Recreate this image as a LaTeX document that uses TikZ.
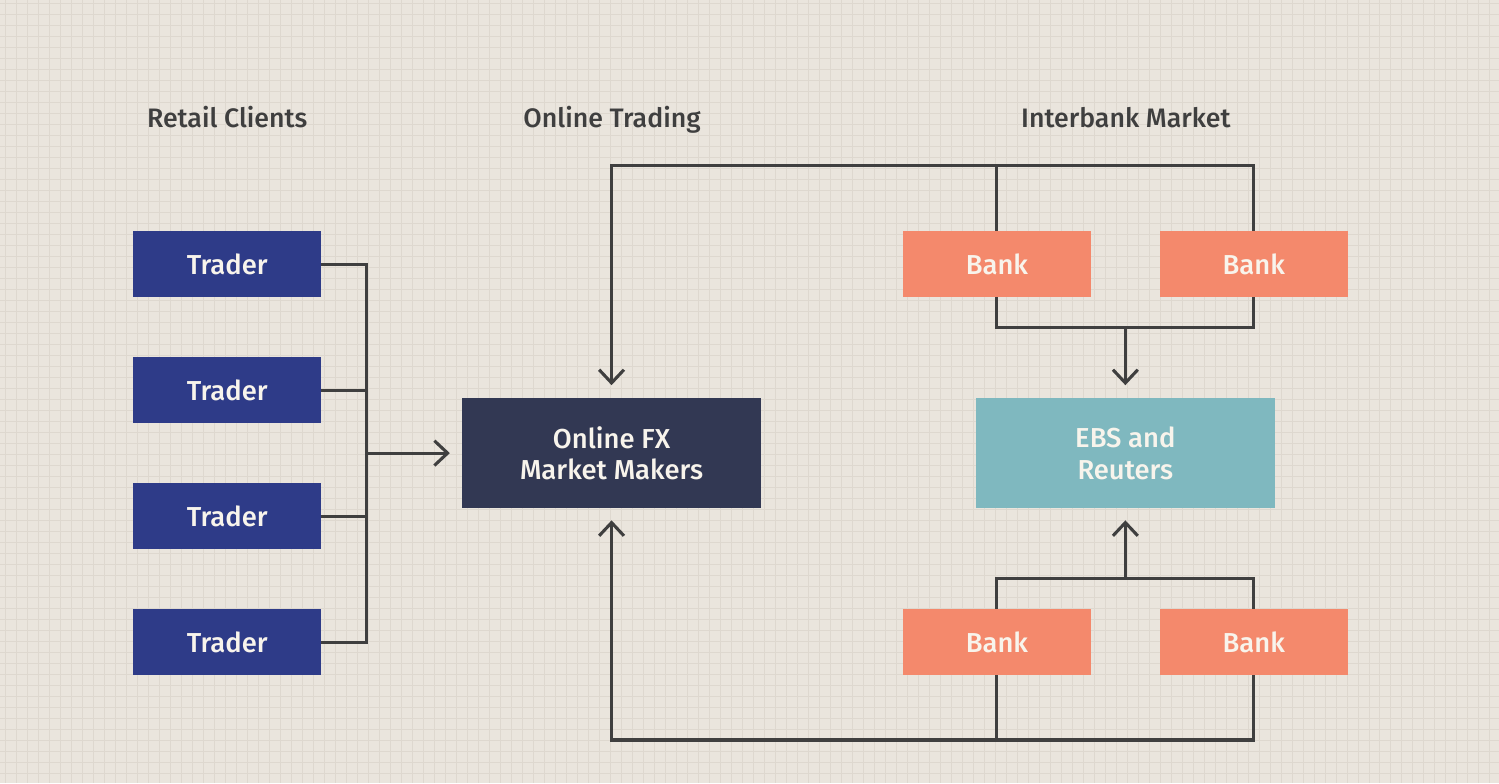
\documentclass[tikz,border=0pt]{standalone}
\usepackage{fontspec}
\setmainfont{Fira Sans}[UprightFont={* Medium}]
\usetikzlibrary{arrows.meta,positioning,calc}
\definecolor{bgcol}{HTML}{EAE5DD}
\definecolor{gridcol}{HTML}{DED8CF}
\definecolor{linecol}{HTML}{3F3F3F}
\definecolor{tradercol}{HTML}{2E3B88}
\definecolor{fxcol}{HTML}{323853}
\definecolor{bankcol}{HTML}{F4896C}
\definecolor{ebscol}{HTML}{7FB8BF}
\definecolor{boxtext}{HTML}{F8F4EC}
\tikzset{
  box/.style={inner sep=0pt,align=center,text=boxtext,font=\fontsize{19.5}{22.5}\selectfont},
  trader/.style={box,fill=tradercol,minimum width=4.7cm,minimum height=1.65cm},
  bank/.style={box,fill=bankcol,minimum width=4.7cm,minimum height=1.65cm},
  hub/.style={box,minimum width=7.475cm,minimum height=2.75cm},
  title/.style={text=linecol,anchor=base,font=\fontsize{19}{22}\selectfont},
  link/.style={draw=linecol,line width=2.2pt},
  arr/.style={link,-{Straight Barb[length=0.33cm,width=0.62cm,line width=2.2pt]}},
}

\begin{document}
\begin{tikzpicture}[x=0.025cm,y=-0.025cm]
	\fill[bgcol] (0,0) rectangle (1499,783);
	\foreach \gx in {5,16,...,1499} \draw[gridcol,line width=0.4pt] (\gx,0)--(\gx,783);
	\foreach \gy in {3,14,...,783} \draw[gridcol,line width=0.4pt] (0,\gy)--(1499,\gy);
	\useasboundingbox (0,0) rectangle (1499,783);
	% column titles
	\node[title] (ttl1) at (227,127) {Retail Clients};
	\node[title] (ttl2) at (612,127) {Online Trading};
	\node[title] (ttl3) at (1126,127) {Interbank Market};
	% traders
	\node[trader] (t1) at (227,264) {Trader};
	\node[trader] (t2) at (227,390) {Trader};
	\node[trader] (t3) at (227,516) {Trader};
	\node[trader] (t4) at (227,642) {Trader};
	% market makers and interbank
	\node[hub,fill=fxcol] (fx) at (611.5,453) {Online FX\\Market Makers};
	\node[hub,fill=ebscol] (ebs) at (1125.5,453) {EBS and\\Reuters};
	\node[bank] (b1) at (997,264) {Bank};
	\node[bank] (b2) at (1254,264) {Bank};
	\node[bank] (b3) at (997,642) {Bank};
	\node[bank] (b4) at (1254,642) {Bank};
	% junctions
	\coordinate (jl) at (366,453);
	\coordinate (topline) at (611.5,165);
	\coordinate (upmid) at (1125.5,327);
	\coordinate (lowmid) at (1125.5,578);
	\coordinate (botline) at (611.5,740);
	% traders to market makers
	\draw[link] (t1.east) -| (jl);
	\draw[link] (t4.east) -| (jl);
	\draw[link] (t2.east) -- (t2.east -| jl);
	\draw[link] (t3.east) -- (t3.east -| jl);
	\draw[arr,shorten >=8.5pt] (jl) -- (fx.west);
	% banks to EBS
	\draw[link] (b1.south) |- (upmid) -| (b2.south);
	\draw[arr,shorten >=9pt] (upmid) -- (ebs.north);
	\draw[link] (b3.north) |- (lowmid) -| (b4.north);
	\draw[arr,shorten >=8.5pt] (lowmid) -- (ebs.south);
	% banks to market makers
	\draw[link] (b1.north) -- (b1.north |- topline);
	\draw[arr,shorten >=9pt] (b2.north) |- (topline) -- (fx.north);
	\draw[link] (b3.south) -- (b3.south |- botline);
	\draw[arr,shorten >=8.5pt] (b4.south) |- (botline) -- (fx.south);
\end{tikzpicture}
\end{document}
